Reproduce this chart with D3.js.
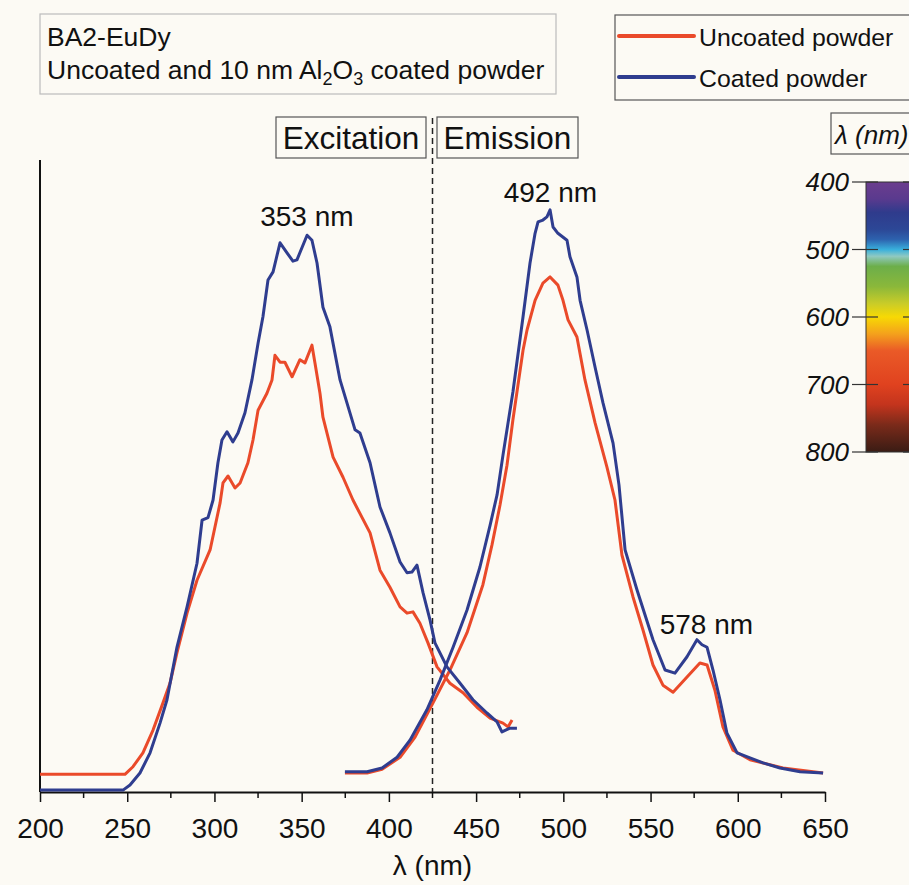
<!DOCTYPE html>
<html>
<head>
<meta charset="utf-8">
<script src="https://cdn.jsdelivr.net/npm/d3@7"></script>
<style>
  body { margin: 0; background: #fcfaf4; }
  svg { display: block; font-family: "Liberation Sans", Arial, sans-serif; }
</style>
</head>
<body>
<div id="canvas"></div>
<script>

// wavelength (nm), intensity (a.u., 0..1 of plot height)
var excUncoated = [
  [200, 0.028], [248.7, 0.028], [253.3, 0.040], [259.0, 0.062], [264.8, 0.098],
  [270.5, 0.141], [274.5, 0.172], [278.5, 0.220], [284.3, 0.283], [290.0, 0.335],
  [297.5, 0.383], [303.2, 0.457], [304.9, 0.489], [307.8, 0.500], [311.8, 0.481],
  [314.7, 0.489], [319.2, 0.521], [322.1, 0.557], [325.0, 0.604], [330.1, 0.631],
  [333.0, 0.652], [334.7, 0.691], [337.6, 0.680], [340.4, 0.680], [344.5, 0.657],
  [349.0, 0.684], [351.9, 0.679], [355.9, 0.707], [357.6, 0.679], [360.5, 0.631],
  [362.2, 0.593], [368.0, 0.530], [373.7, 0.498], [379.4, 0.462], [389.2, 0.410],
  [394.9, 0.351], [400.6, 0.324], [406.4, 0.293], [410.4, 0.283], [413.8, 0.285],
  [417.8, 0.267], [422.4, 0.236], [427.6, 0.198], [435.0, 0.172], [442.5, 0.157],
  [450.5, 0.134], [458.0, 0.117], [465.4, 0.109], [468.3, 0.103], [470.6, 0.114]
];

var excCoated = [
  [200, 0.003], [247.6, 0.003], [251.6, 0.011], [257.3, 0.030], [263.1, 0.062],
  [268.8, 0.109], [272.8, 0.146], [278.5, 0.229], [284.3, 0.293], [290.0, 0.362],
  [292.9, 0.430], [296.3, 0.434], [299.2, 0.462], [302.0, 0.521], [304.3, 0.557],
  [307.2, 0.570], [310.6, 0.554], [313.5, 0.568], [317.5, 0.600], [321.5, 0.652],
  [325.0, 0.710], [327.8, 0.752], [330.7, 0.810], [333.6, 0.823], [337.6, 0.869],
  [341.6, 0.853], [345.0, 0.840], [347.3, 0.842], [353.1, 0.881], [355.9, 0.873],
  [358.8, 0.837], [362.2, 0.767], [366.2, 0.736], [372.0, 0.652], [380.6, 0.573],
  [383.4, 0.568], [389.2, 0.521], [394.9, 0.451], [400.6, 0.410], [406.4, 0.364],
  [410.4, 0.347], [413.2, 0.348], [416.1, 0.359], [419.6, 0.315], [423.6, 0.272],
  [426.4, 0.236], [433.3, 0.198], [440.8, 0.172], [448.2, 0.146], [456.2, 0.125],
  [462.0, 0.111], [464.8, 0.095], [469.4, 0.101], [473.4, 0.101]
];

var emUncoated = [
  [374.8, 0.030], [387.5, 0.030], [396.1, 0.036], [406.4, 0.055], [415.0, 0.087],
  [425.3, 0.141], [435.0, 0.193], [444.8, 0.252], [453.9, 0.328], [459.1, 0.391],
  [463.7, 0.454], [467.7, 0.517], [471.1, 0.589], [474.0, 0.644], [476.9, 0.699],
  [479.2, 0.731], [483.8, 0.778], [488.3, 0.805], [492.4, 0.815], [496.9, 0.802],
  [499.8, 0.778], [502.7, 0.747], [507.8, 0.720], [512.4, 0.652], [518.2, 0.584],
  [525.0, 0.514], [529.6, 0.462], [533.6, 0.375], [539.9, 0.309], [545.7, 0.256],
  [551.4, 0.201], [557.1, 0.169], [562.9, 0.158], [570.9, 0.182], [578.3, 0.204],
  [582.4, 0.201], [586.9, 0.161], [591.5, 0.103], [597.3, 0.066], [607.0, 0.051],
  [625.9, 0.038], [648.9, 0.030]
];

var emCoated = [
  [374.8, 0.032], [387.5, 0.032], [396.1, 0.038], [404.7, 0.055], [412.1, 0.082],
  [421.8, 0.130], [429.3, 0.177], [436.8, 0.229], [444.8, 0.288], [452.2, 0.356],
  [458.0, 0.422], [462.0, 0.470], [465.4, 0.533], [471.1, 0.633], [476.9, 0.752],
  [480.9, 0.837], [483.8, 0.884], [485.5, 0.902], [488.3, 0.905], [490.6, 0.910],
  [492.4, 0.921], [494.1, 0.894], [496.9, 0.884], [502.1, 0.873], [503.8, 0.847],
  [507.8, 0.815], [509.6, 0.778], [513.6, 0.731], [518.2, 0.672], [522.7, 0.616],
  [528.5, 0.552], [531.9, 0.486], [535.4, 0.383], [542.2, 0.320], [551.4, 0.241],
  [558.3, 0.193], [564.0, 0.188], [570.9, 0.214], [576.6, 0.241], [579.5, 0.233],
  [582.4, 0.229], [585.8, 0.193], [589.8, 0.146], [593.8, 0.093], [599.6, 0.062],
  [607.0, 0.054], [614.5, 0.046], [624.2, 0.038], [635.7, 0.032], [648.9, 0.030]
];

var xTicks = [200, 250, 300, 350, 400, 450, 500, 550, 600, 650];
var xMinorTicks = [225, 275, 325, 375, 425, 475, 525, 575, 625];
// [wavelength, label height, text, x nudge]
var peakLabels = [[353, 0.895, "353 nm", 0], [492, 0.934, "492 nm", 1], [578, 0.25, "578 nm", 7]];
var splitAt = 425;

var cbTicks = [400, 500, 600, 700, 800];
var cbStops = [
  [400, "#6b3d8e"], [425, "#5a3a8e"], [445, "#2f3b8c"], [470, "#2c4796"],
  [485, "#2d62ae"], [500, "#39b0dc"], [510, "#8fc9c2"], [525, "#6cae4a"],
  [555, "#8bb83a"], [580, "#c9cc28"], [600, "#f7d904"], [625, "#f4a11c"],
  [650, "#ea5a27"], [700, "#e0421f"], [730, "#c3341d"], [760, "#7a2a1a"],
  [800, "#3a1c14"]
];

var red = "#ea4a2a";
var blue = "#2f3d8f";

var width = 909, height = 885;

var svg = d3.select("#canvas")
  .append("svg")
  .attr("width", width)
  .attr("height", height);

svg.append("rect").attr("width", width).attr("height", height).attr("fill", "#fcfaf4");

var x = d3.scaleLinear().domain([200, 650]).range([40, 825]);
var y = d3.scaleLinear().domain([0, 1]).range([792, 160]);

// x axis
var xAxis = svg.append("g")
  .attr("transform", "translate(0,792)")
  .call(d3.axisBottom(x).tickValues(xTicks).tickSize(10).tickSizeOuter(0).tickPadding(16));
xAxis.select(".domain").attr("stroke", "#111").attr("stroke-width", 2);
xAxis.selectAll(".tick line").attr("stroke", "#111").attr("stroke-width", 1.5);
xAxis.selectAll(".tick text")
  .attr("font-size", 28).attr("fill", "#111")
  .attr("font-family", "'Liberation Sans', Arial, sans-serif");

svg.append("g")
  .selectAll("line")
  .data(xMinorTicks)
  .enter()
    .append("line")
    .attr("x1", function(d) { return x(d); })
    .attr("x2", function(d) { return x(d); })
    .attr("y1", 792)
    .attr("y2", 798)
    .attr("stroke", "#111")
    .attr("stroke-width", 1.5);

// y axis, no ticks
svg.append("line")
  .attr("x1", x(200)).attr("x2", x(200))
  .attr("y1", y(1)).attr("y2", y(0))
  .attr("stroke", "#111").attr("stroke-width", 2);

svg.append("text")
  .attr("x", x(425)).attr("y", 875)
  .attr("text-anchor", "middle")
  .attr("font-size", 28).attr("fill", "#111")
  .text("λ (nm)");

// divider between excitation and emission
svg.append("line")
  .attr("x1", x(splitAt)).attr("x2", x(splitAt))
  .attr("y1", 118).attr("y2", y(0))
  .attr("stroke", "#222").attr("stroke-width", 1.5)
  .attr("stroke-dasharray", "6,4");

var line = d3.line()
  .x(function(d) { return x(d[0]); })
  .y(function(d) { return y(d[1]); });

var series = [
  [excUncoated, red], [emUncoated, red],
  [excCoated, blue], [emCoated, blue]
];

svg.append("g")
  .selectAll("path")
  .data(series)
  .enter()
    .append("path")
    .attr("d", function(s) { return line(s[0]); })
    .attr("fill", "none")
    .attr("stroke", function(s) { return s[1]; })
    .attr("stroke-width", 3)
    .attr("stroke-linejoin", "round");

svg.append("g")
  .selectAll("text")
  .data(peakLabels)
  .enter()
    .append("text")
    .attr("x", function(d) { return x(d[0]) + d[3]; })
    .attr("y", function(d) { return y(d[1]); })
    .attr("text-anchor", "middle")
    .attr("font-size", 28)
    .attr("fill", "#111")
    .text(function(d) { return d[2]; });

// Excitation / Emission boxes
function boxLabel(x0, y0, w, h, txt, size) {
  svg.append("rect")
    .attr("x", x0).attr("y", y0).attr("width", w).attr("height", h)
    .attr("fill", "#fcfaf4").attr("stroke", "#555").attr("stroke-width", 1.2);
  svg.append("text")
    .attr("x", x0 + w / 2).attr("y", y0 + h / 2 + size * 0.36)
    .attr("text-anchor", "middle")
    .attr("font-size", size)
    .attr("fill", "#111")
    .text(txt);
}
boxLabel(276, 117, 150, 41, "Excitation", 31.5);
boxLabel(437, 117, 141, 41, "Emission", 31.5);

// title box
svg.append("rect")
  .attr("x", 40).attr("y", 14).attr("width", 516).attr("height", 80)
  .attr("fill", "#fcfaf4").attr("stroke", "#bbb").attr("stroke-width", 1.2);
svg.append("text")
  .attr("x", 47).attr("y", 46)
  .attr("font-size", 26.5).attr("fill", "#111")
  .text("BA2-EuDy");
var t2 = svg.append("text")
  .attr("x", 47).attr("y", 79)
  .attr("font-size", 26.5).attr("fill", "#111");
t2.append("tspan").text("Uncoated and 10 nm Al");
t2.append("tspan").attr("font-size", 18).attr("dy", 6).text("2");
t2.append("tspan").attr("dy", -6).text("O");
t2.append("tspan").attr("font-size", 18).attr("dy", 6).text("3");
t2.append("tspan").attr("dy", -6).text(" coated powder");

// legend
var legend = [["Uncoated powder", red], ["Coated powder", blue]];
svg.append("rect")
  .attr("x", 615).attr("y", 15).attr("width", 310).attr("height", 85)
  .attr("fill", "#fcfaf4").attr("stroke", "#555").attr("stroke-width", 1.2);
var lg = svg.append("g")
  .selectAll("g")
  .data(legend)
  .enter()
    .append("g")
    .attr("transform", function(d, i) { return "translate(0," + (36 + 41 * i) + ")"; });
lg.append("line")
  .attr("x1", 619).attr("x2", 694)
  .attr("stroke", function(d) { return d[1]; })
  .attr("stroke-width", 4).attr("stroke-linecap", "round");
lg.append("text")
  .attr("x", 699).attr("y", 10)
  .attr("font-size", 24.8).attr("fill", "#111")
  .text(function(d) { return d[0]; });

// colour bar
var cb = d3.scaleLinear().domain([400, 800]).range([182, 452]);
var grad = svg.append("defs").append("linearGradient")
  .attr("id", "spec")
  .attr("x1", 0).attr("x2", 0).attr("y1", 0).attr("y2", 1);
grad.selectAll("stop")
  .data(cbStops)
  .enter()
    .append("stop")
    .attr("offset", function(d) { return (d[0] - 400) / 400; })
    .attr("stop-color", function(d) { return d[1]; });

boxLabel(831, 113, 100, 41, "", 24);
svg.append("text")
  .attr("x", 835).attr("y", 144)
  .attr("font-size", 26).attr("font-style", "italic").attr("fill", "#111")
  .text("λ (nm)");

svg.append("rect")
  .attr("x", 866).attr("y", cb(400))
  .attr("width", 60).attr("height", cb(800) - cb(400))
  .attr("fill", "url(#spec)")
  .attr("stroke", "#333").attr("stroke-width", 1);

var cbt = svg.append("g")
  .selectAll("g")
  .data(cbTicks)
  .enter()
    .append("g")
    .attr("transform", function(d) { return "translate(0," + cb(d) + ")"; });
cbt.append("line")
  .attr("x1", 852).attr("x2", 878)
  .attr("stroke", "#333").attr("stroke-width", 1.2);
cbt.append("line")
  .attr("x1", 903).attr("x2", 915)
  .attr("stroke", "#333").attr("stroke-width", 1.2);
cbt.append("text")
  .attr("x", 849).attr("y", 9)
  .attr("text-anchor", "end")
  .attr("font-size", 26).attr("font-style", "italic").attr("fill", "#111")
  .text(function(d) { return d; });

</script>
</body>
</html>
